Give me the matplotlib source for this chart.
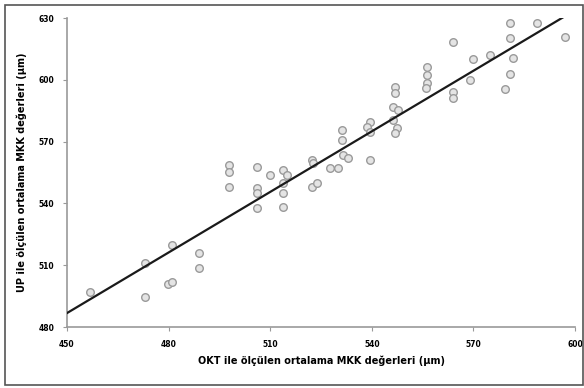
import numpy as np
import matplotlib
matplotlib.use("Agg")
import matplotlib.pyplot as plt
from matplotlib.patches import Rectangle

# mean CCT, OCT (x) vs UP (y)
okt = [456.8, 473.0, 473.0, 481.0, 479.8, 481.0, 489.0, 489.0,
       497.8, 497.8, 497.8, 506.1, 506.1, 506.1, 506.1, 509.9,
       513.8, 515.0, 513.8, 513.8, 513.8, 522.3, 522.6, 522.3,
       523.8, 527.7, 530.0, 531.2, 531.2, 531.5, 533.0, 539.5,
       538.6, 539.5, 539.5, 546.8, 546.8, 546.3, 547.7, 546.3,
       547.4, 546.8, 556.3, 556.3, 556.3, 556.0, 564.0, 564.0,
       564.0, 569.0, 569.9, 574.9, 580.8, 580.8, 581.7, 580.8,
       579.3, 588.8, 597.0]
up = [497.0, 511.1, 494.6, 519.8, 500.9, 501.8, 515.9, 508.6,
      558.6, 555.2, 548.0, 557.7, 547.5, 545.0, 537.8, 553.8,
      556.2, 553.8, 549.9, 545.0, 538.3, 561.1, 559.6, 548.0,
      549.9, 557.2, 557.2, 575.6, 570.8, 563.5, 562.0, 579.5,
      577.1, 574.7, 561.1, 596.5, 593.6, 586.8, 585.3, 580.5,
      576.6, 574.2, 606.2, 602.3, 598.4, 596.0, 618.3, 594.1,
      591.2, 599.9, 610.1, 612.0, 627.6, 620.3, 610.6, 602.8,
      595.5, 627.6, 620.8]

# regression line drawn on the chart
fit_slope = 0.98
fit_intercept = 45.8
fit_range = [450, 597]

xticks = [450, 480, 510, 540, 570, 600]
yticks = [480, 510, 540, 570, 600, 630]

fig = plt.figure(figsize=(5.84, 3.88), dpi=100)
ax = fig.add_axes([0.1147, 0.157, 0.87, 0.7966])

# frame around the whole figure
fig.patches.append(Rectangle((0.009, 0.008), 0.99, 0.979, transform=fig.transFigure,
                             fill=False, edgecolor="#555555", linewidth=1.2))

ax.scatter(okt, up, s=30, facecolor="#e4e4e4", edgecolor="#9a9a9a",
           linewidth=1.0, zorder=2)

xl = np.array(fit_range, dtype=float)
ax.plot(xl, fit_slope * xl + fit_intercept, color="#1a1a1a", linewidth=1.6, zorder=3)

ax.set_xlim(450, 600)
ax.set_ylim(480, 630)
ax.set_xticks(xticks)
ax.set_yticks(yticks)
ax.set_xticklabels([str(t) for t in xticks], fontsize=5.5, fontweight="bold")
ax.set_yticklabels([str(t) for t in yticks], fontsize=5.5, fontweight="bold")
ax.tick_params(axis="both", length=3, width=0.8, color="#999999", pad=6)

for side in ["top", "right"]:
    ax.spines[side].set_visible(False)
for side in ["left", "bottom"]:
    ax.spines[side].set_color("#999999")
    ax.spines[side].set_linewidth(1.2)

ax.set_xlabel("OKT ile ölçülen ortalama MKK değerleri (µm)", fontsize=7,
              fontweight="bold", labelpad=5)
ax.set_ylabel("UP ile ölçülen ortalama MKK değerleri (µm)", fontsize=7,
              fontweight="bold", labelpad=8)

fig.savefig("out.png", dpi=100)
